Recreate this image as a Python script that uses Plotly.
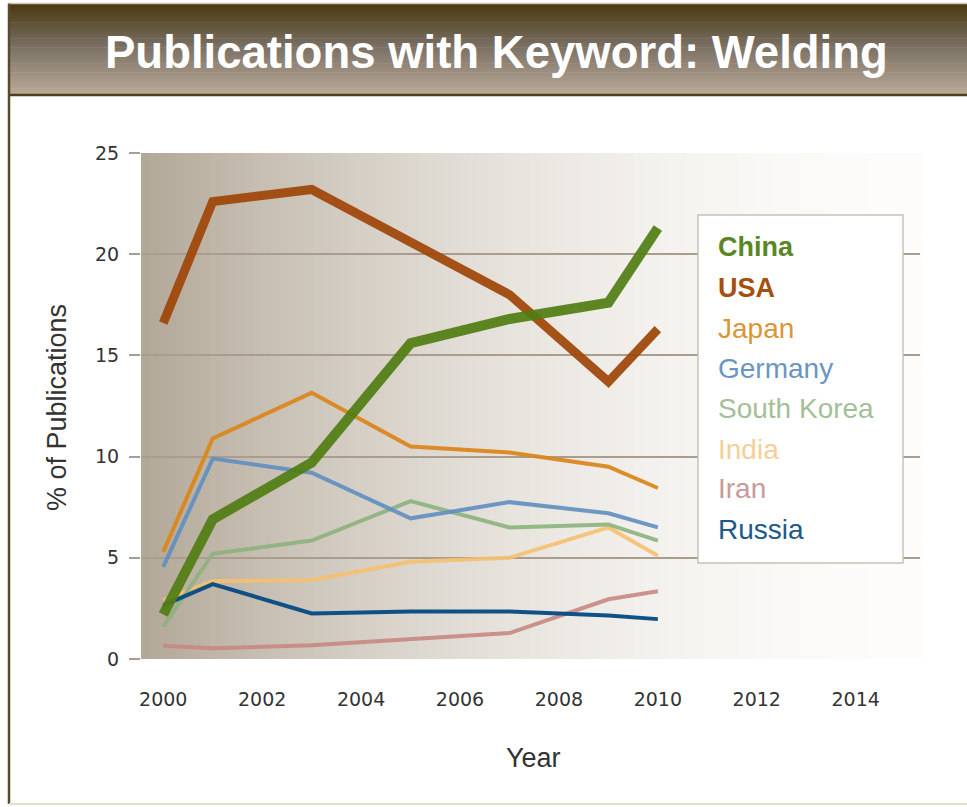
import plotly.graph_objects as go

years = [2000, 2001, 2003, 2005, 2007, 2009, 2010]
china = [2.2, 6.9, 9.7, 15.6, 16.8, 17.6, 21.3]
usa = [16.6, 22.6, 23.2, 20.6, 18.0, 13.7, 16.3]
japan = [5.3, 10.9, 13.15, 10.5, 10.2, 9.5, 8.45]
germany = [4.55, 9.9, 9.2, 6.95, 7.75, 7.2, 6.5]
south_korea = [1.6, 5.2, 5.85, 7.8, 6.5, 6.65, 5.85]
india = [2.9, 3.85, 3.9, 4.8, 5.0, 6.5, 5.1]
iran = [0.65, 0.53, 0.68, 1.0, 1.28, 2.95, 3.35]
russia = [2.65, 3.7, 2.25, 2.35, 2.35, 2.15, 1.97]

series = [
    ("China", china, "rgba(80,125,18,0.92)", 10, "#5a8624", True),
    ("USA", usa, "rgba(158,68,6,0.92)", 9, "#a4500f", True),
    ("Japan", japan, "rgba(218,135,30,0.95)", 4, "#dc9434", False),
    ("Germany", germany, "rgba(95,142,192,0.9)", 4, "#6b95c4", False),
    ("South Korea", south_korea, "rgba(140,178,125,0.9)", 4, "#a4bf98", False),
    ("India", india, "rgba(245,192,112,0.9)", 4, "#f5cf96", False),
    ("Iran", iran, "rgba(200,135,130,0.9)", 4, "#c99a9a", False),
    ("Russia", russia, "rgba(8,76,132,0.97)", 4, "#1c5a8c", False),
]
draw_order = ["Iran", "India", "South Korea", "Germany", "Russia", "Japan", "USA", "China"]

W, H = 967, 807
L, R, T, B = 141, 920, 153, 659


def px(x):
    return (x - L) / (R - L)


def py(y):
    return (B - y) / (B - T)


fig = go.Figure()
lookup = {s[0]: s for s in series}
for name in draw_order:
    n, vals, col, w, _, _ = lookup[name]
    fig.add_trace(go.Scatter(x=years, y=vals, mode="lines", name=n,
                             line=dict(color=col, width=w), showlegend=False))

shapes = []


def lerp(c1, c2, t):
    return tuple(int(round(a + (b - a) * t)) for a, b in zip(c1, c2))


# plot background gradient (left tan -> right white)
N = 90
c_left = (178, 167, 151)
c_right = (253, 252, 250)
for i in range(N):
    t0 = i / N
    t1 = (i + 1) / N
    tm = (t0 + t1) / 2
    t = 1 - (1 - tm) ** 1.9
    c = lerp(c_left, c_right, t)
    shapes.append(dict(type="rect", xref="paper", yref="paper", x0=t0, x1=t1 + 0.002,
                       y0=0, y1=1, fillcolor="rgb(%d,%d,%d)" % c, line=dict(width=0),
                       layer="below"))

# title bar gradient
ytop, ybot = 4, 95
NB = 40
c_top = (74, 56, 16)
c_mid = (120, 110, 98)
c_bot = (186, 170, 152)
for i in range(NB):
    t = (i + 0.5) / NB
    if t < 0.45:
        c = lerp(c_top, c_mid, t / 0.45)
    else:
        c = lerp(c_mid, c_bot, (t - 0.45) / 0.55)
    y0 = ytop + (ybot - ytop) * i / NB
    y1 = ytop + (ybot - ytop) * (i + 1) / NB + 0.6
    shapes.append(dict(type="rect", xref="paper", yref="paper", x0=px(9), x1=px(967),
                       y0=py(y1), y1=py(y0), fillcolor="rgb(%d,%d,%d)" % c,
                       line=dict(width=0), layer="above"))
# title bar lines
shapes.append(dict(type="line", xref="paper", yref="paper", x0=px(9), x1=px(967),
                   y0=py(95), y1=py(95), line=dict(color="#4e3f1a", width=2.5)))
shapes.append(dict(type="line", xref="paper", yref="paper", x0=px(9), x1=px(967),
                   y0=py(3.5), y1=py(3.5), line=dict(color="#cfc6b0", width=1.5)))
# frame
shapes.append(dict(type="line", xref="paper", yref="paper", x0=px(9), x1=px(9),
                   y0=py(3.5), y1=py(804), line=dict(color="#5a4a28", width=2.5)))
shapes.append(dict(type="line", xref="paper", yref="paper", x0=px(9), x1=px(967),
                   y0=py(804), y1=py(804), line=dict(color="#e6dfc6", width=2)))
# legend box
shapes.append(dict(type="rect", xref="paper", yref="paper", x0=px(698), x1=px(903),
                   y0=py(563), y1=py(215), fillcolor="white",
                   line=dict(color="#c9c1b7", width=1.5), layer="above"))

annotations = [
    dict(text="<b>Publications with Keyword: Welding</b>", xref="paper", yref="paper",
         x=px(496), y=py(52), xanchor="center", yanchor="middle", showarrow=False,
         font=dict(family="Liberation Sans", size=45.5, color="white")),
    dict(text="% of Publications", xref="paper", yref="paper", x=px(57), y=py(408),
         textangle=-90, xanchor="center", yanchor="middle", showarrow=False,
         font=dict(family="Liberation Sans", size=27, color="#333333")),
    dict(text="Year", xref="paper", yref="paper", x=px(533), y=py(758),
         xanchor="center", yanchor="middle", showarrow=False,
         font=dict(family="Liberation Sans", size=27, color="#333333")),
]
ys = [247, 288, 328, 368, 408, 449, 489, 529]
for (n, _, _, _, tcol, bold), yy in zip(series, ys):
    annotations.append(dict(text=("<b>%s</b>" % n) if bold else n, xref="paper", yref="paper",
                            x=px(716), y=py(yy), xanchor="left", yanchor="middle",
                            showarrow=False,
                            font=dict(family="Liberation Sans", size=28 if not bold else 27,
                                      color=tcol)))

tickfont = dict(family="DejaVu Sans", size=19, color="#333333")
fig.update_layout(
    width=W, height=H,
    margin=dict(l=L, r=W - R, t=T, b=H - B, pad=0),
    paper_bgcolor="white", plot_bgcolor="white",
    shapes=shapes, annotations=annotations,
    showlegend=False,
    xaxis=dict(range=[1999.55, 2015.3], tickvals=[2000, 2002, 2004, 2006, 2008, 2010, 2012, 2014],
               showgrid=False, zeroline=False, showline=False, ticks="",
               ticklabelstandoff=27, tickfont=tickfont),
    yaxis=dict(range=[0, 25], tickvals=[0, 5, 10, 15, 20, 25], showgrid=True,
               gridcolor="#a89d8e", gridwidth=1.5, zeroline=False, showline=False,
               ticks="outside", ticklen=11, tickcolor="#a89d8e", tickwidth=1.5,
               ticklabelstandoff=6, tickfont=tickfont),
)
fig.write_html("out.html")
